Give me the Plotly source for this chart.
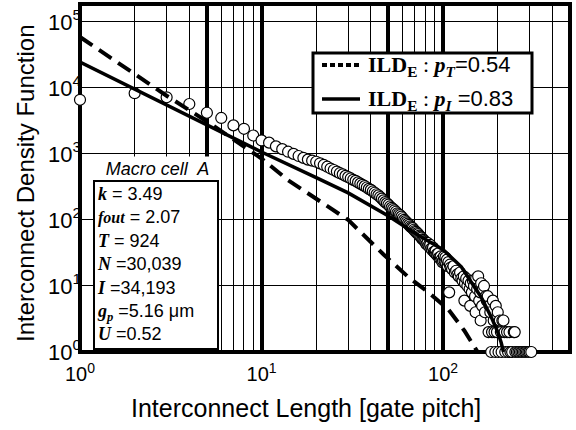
import plotly.graph_objects as go

# ---------------- data ----------------
length = list(range(1, 101)) + [101, 102, 103, 104, 105, 106, 107, 108, 109, 110, 112, 114, 116, 118, 120,
          122, 124, 126, 128, 130, 131, 132, 134, 136, 138, 140, 141, 142, 144, 146, 148, 150, 151, 152,
          154, 156, 158, 160, 161, 162, 164, 166, 168, 170, 172, 174, 176, 178, 180, 182, 184, 186, 188,
          190, 192, 194, 195, 198, 200, 202, 205, 208, 210, 212, 215, 218, 220, 225, 228, 232, 235, 240,
          245, 248, 250, 255, 260, 265, 270, 275, 280, 285, 290, 295, 300, 306]
density = [6600, 8300, 7200, 5700, 4200, 3500, 2700, 2400, 1900, 1600,
           1480, 1300, 1180, 1080, 1000, 930, 870, 820, 790, 760,
           720, 680, 640, 600, 570, 540, 510, 490, 465, 445,
           425, 405, 390, 370, 355, 340, 325, 310, 295, 285,
           270, 258, 245, 235, 222, 210, 198, 186, 178, 170,
           160, 152, 146, 140, 133, 126, 122, 118, 112, 106,
           100, 96, 92, 88, 84, 80, 77, 75, 71, 68,
           66, 63, 61, 58, 56, 54, 51, 50, 48, 46,
           43, 45, 41, 39, 42, 37, 35, 38, 33, 32,
           34, 30, 29, 31, 27, 26, 28, 25, 23, 24,
           28, 24, 27, 22, 25, 20, 23, 8, 21, 19, 18, 20, 16, 17, 15,
           14, 16, 13, 12, 14, 6, 11, 13, 10, 12, 9, 5, 11, 8, 12, 10, 7, 4, 13,
           9, 14, 6, 8, 3, 11, 5, 9, 10, 4, 7, 6, 7, 2, 5, 4, 1, 2, 6,
           3, 2, 1, 5, 2, 4, 1, 3, 2, 1, 3, 3, 2, 1, 2, 1, 2, 1, 1,
           2, 2, 1, 1, 1, 1, 1, 1, 1, 1, 1, 1, 1, 1]

solid_x = [1, 2, 3, 5, 10, 20, 30, 50, 70, 100, 126, 150, 162, 184, 200, 209, 215]
solid_y = [24500, 9550, 5500, 2750, 1070, 437, 257, 115, 63, 35.5, 19.5, 9.3, 6.8, 3.4, 2.0, 1.38, 1.0]

dash_x = [1, 2, 3, 5, 10, 14, 20, 30, 47, 64, 84, 107, 131, 148, 155]
dash_y = [59000, 16200, 7600, 3100, 850, 400, 210, 100, 30, 13.8, 7.8, 4.4, 2.1, 1.2, 1.0]

x_major = [1, 5, 10, 50, 100]
x_major_text = ["10<sup>0</sup>", "", "10<sup>1</sup>", "", "10<sup>2</sup>"]
x_minor = [2, 3, 4, 6, 7, 8, 9, 20, 30, 40, 60, 70, 80, 90, 200, 300, 400, 500]
y_ticks = [1, 10, 100, 1000, 10000, 100000]
y_text = ["10<sup>0</sup>", "10<sup>1</sup>", "10<sup>2</sup>", "10<sup>3</sup>", "10<sup>4</sup>", "10<sup>5</sup>"]

SANS = "Liberation Sans"
SERIF = "Liberation Serif"

fig = go.Figure()
fig.add_trace(go.Scatter(x=length, y=density, mode="markers", showlegend=False, cliponaxis=False,
                         marker=dict(symbol="circle", size=11, color="white",
                                     line=dict(color="black", width=1.2))))
fig.add_trace(go.Scatter(x=dash_x, y=dash_y, mode="lines", showlegend=False,
                         line=dict(color="black", width=4, dash="15px,8px")))
fig.add_trace(go.Scatter(x=solid_x, y=solid_y, mode="lines", showlegend=False,
                         line=dict(color="black", width=3.5)))

def lab(sub, val):
    return (f"<span style='font-family:{SERIF}'><b>ILD</b><sub><b>E</b></sub> : "
            f"<b><i>p</i></b><sub><b><i>{sub}</i></b></sub></span>{val}")

stats = "<br>".join([
    f"<span style='font-family:{SERIF}'><b><i>k</i></b></span> = 3.49",
    f"<span style='font-family:{SERIF};font-size:16px'><b><i>fout</i></b></span> = 2.07",
    f"<span style='font-family:{SERIF}'><b><i>T</i></b></span> = 924",
    f"<span style='font-family:{SERIF}'><b><i>N</i></b></span> =30,039",
    f"<span style='font-family:{SERIF}'><b><i>I</i></b></span> =34,193",
    f"<span style='font-family:{SERIF}'><b><i>g</i></b><sub><b><i>p</i></b></sub></span> =5.16 μm",
    f"<span style='font-family:{SERIF}'><b><i>U</i></b></span> =0.52",
])

def px(xp):
    return (xp - 80) / 490

def py(yp):
    return (352 - yp) / 348

legend_shapes = [
    dict(type="rect", xref="paper", yref="paper", x0=px(313), x1=px(532), y0=py(113), y1=py(53),
         fillcolor="white", line=dict(color="black", width=3), layer="above"),
    dict(type="line", xref="paper", yref="paper", x0=px(322), x1=px(360), y0=py(65), y1=py(65),
         line=dict(color="black", width=4, dash="5px,3px"), layer="above"),
    dict(type="line", xref="paper", yref="paper", x0=px(322), x1=px(360), y0=py(99), y1=py(99),
         line=dict(color="black", width=3.5), layer="above"),
]

fig.update_layout(
    width=576, height=430,
    margin=dict(l=80, r=6, t=4, b=78),
    paper_bgcolor="white", plot_bgcolor="white",
    showlegend=False,
    font=dict(family=SANS, color="black", size=18),
    xaxis=dict(type="log", range=[0, 2.69897], tickmode="array", tickvals=x_major,
               ticktext=x_major_text, showgrid=True, gridcolor="black", gridwidth=3.5,
               showline=False, zeroline=False, ticks="", tickfont=dict(size=20),
               ticklabelstandoff=8,
               minor=dict(tickmode="array", tickvals=x_minor, showgrid=True,
                          gridcolor="black", gridwidth=1.2, ticks="")),
    yaxis=dict(type="log", range=[0, 5.27], tickmode="array", tickvals=y_ticks,
               ticktext=y_text, showgrid=True, gridcolor="black", gridwidth=1.2,
               showline=False, zeroline=False, ticks="", tickfont=dict(size=22),
               ticklabelstandoff=-2),
    shapes=[dict(type="rect", xref="paper", yref="paper", x0=0, x1=1, y0=0, y1=1,
                 line=dict(color="black", width=4), layer="between")] + legend_shapes,
    annotations=[
        dict(text="Interconnect Length [gate pitch]", xref="paper", yref="paper",
             x=px(306), y=py(408), xanchor="center", yanchor="middle",
             showarrow=False, font=dict(size=25)),
        dict(text="Interconnect Density Function", xref="paper", yref="paper",
             x=-(80 - 25) / 490, y=py(183), xanchor="center", yanchor="middle",
             textangle=-90, showarrow=False, font=dict(size=24)),
        dict(text="<i>Macro cell  A</i>", xref="paper", yref="paper",
             x=px(95), y=py(156), xanchor="left", yanchor="top",
             width=121, height=21, bgcolor="white", showarrow=False, font=dict(size=18)),
        dict(text=stats, xref="paper", yref="paper", align="left", valign="top",
             x=px(93), y=py(180), xanchor="left", yanchor="top",
             width=118, height=162, bgcolor="white", bordercolor="black", borderwidth=2,
             borderpad=2, showarrow=False, font=dict(size=18)),
        dict(text=lab("T", "=0.54"), xref="paper", yref="paper", x=px(366), y=py(66),
             xanchor="left", yanchor="middle", showarrow=False, font=dict(size=22)),
        dict(text=lab("I", " =0.83"), xref="paper", yref="paper", x=px(366), y=py(100),
             xanchor="left", yanchor="middle", showarrow=False, font=dict(size=22)),
    ],
)

fig.write_html("out.html")
